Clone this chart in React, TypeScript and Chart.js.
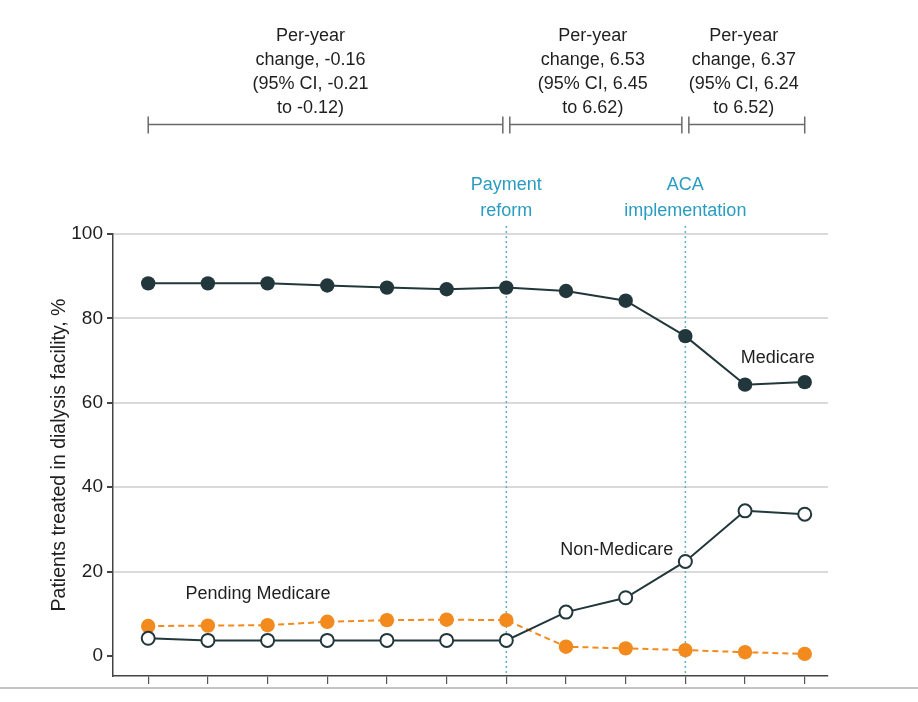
import React, { useEffect, useRef } from "react";
import { Chart, registerables } from "chart.js";

Chart.register(...registerables);

const years = [0, 1, 2, 3, 4, 5, 6, 7, 8, 9, 10, 11];
const medicare = [88.3, 88.3, 88.3, 87.8, 87.3, 86.9, 87.3, 86.5, 84.2, 75.8, 64.3, 64.9];
const nonMedicare = [4.2, 3.7, 3.7, 3.7, 3.7, 3.7, 3.7, 10.4, 13.8, 22.4, 34.4, 33.6];
const pendingMedicare = [7.1, 7.2, 7.3, 8.1, 8.5, 8.6, 8.5, 2.2, 1.8, 1.4, 0.9, 0.5];
const yTickValues = [0, 20, 40, 60, 80, 100];
const eventIndices = [6, 9];
const eventLabels = [["Payment", "reform"], ["ACA", "implementation"]];
const segments = [
  { from: 0, to: 6, textAt: 2.72, lines: ["Per-year", "change, -0.16", "(95% CI, -0.21", "to -0.12)"] },
  { from: 6, to: 9, textAt: 7.45, lines: ["Per-year", "change, 6.53", "(95% CI, 6.45", "to 6.62)"] },
  { from: 9, to: 11, textAt: 9.98, lines: ["Per-year", "change, 6.37", "(95% CI, 6.24", "to 6.52)"] },
];
const yTitle = "Patients treated in dialysis facility, %";

const DARK = "#22373b";
const ORANGE = "#f28a1e";
const TEAL = "#2a9cc2";
const TEXT = "#1f1f1f";
const FONT = "'Liberation Sans', Arial, sans-serif";

const annotations = {
  id: "annotations",
  beforeDatasetsDraw(chart: any) {
    const ctx = chart.ctx;
    const x = chart.scales.x;
    const area = chart.chartArea;
    ctx.save();
    ctx.strokeStyle = "#5fb0cf";
    ctx.lineWidth = 1.5;
    ctx.setLineDash([2, 3]);
    eventIndices.forEach((i) => {
      const px = x.getPixelForValue(i);
      ctx.beginPath();
      ctx.moveTo(px, area.top - 8);
      ctx.lineTo(px, area.bottom);
      ctx.stroke();
    });
    ctx.restore();
  },
  afterDraw(chart: any) {
    const ctx = chart.ctx;
    const x = chart.scales.x;
    const y = chart.scales.y;
    const area = chart.chartArea;
    ctx.save();
    // brackets
    ctx.strokeStyle = "#6a6a6a";
    ctx.lineWidth = 1.5;
    const by = 124.5;
    segments.forEach((s, k) => {
      const x0 = x.getPixelForValue(s.from) + (k === 0 ? 0 : 3.5);
      const x1 = x.getPixelForValue(s.to) - (k === segments.length - 1 ? 0 : 3.5);
      ctx.beginPath();
      ctx.moveTo(x0, by);
      ctx.lineTo(x1, by);
      ctx.moveTo(x0, by - 8);
      ctx.lineTo(x0, by + 9);
      ctx.moveTo(x1, by - 8);
      ctx.lineTo(x1, by + 9);
      ctx.stroke();
      ctx.fillStyle = TEXT;
      ctx.font = `18px ${FONT}`;
      ctx.textAlign = "center";
      ctx.textBaseline = "middle";
      const cx = x.getPixelForValue(s.textAt);
      s.lines.forEach((ln, j) => ctx.fillText(ln, cx, 36 + j * 24));
    });
    // event labels
    ctx.fillStyle = TEAL;
    ctx.font = `18px ${FONT}`;
    ctx.textAlign = "center";
    ctx.textBaseline = "middle";
    eventIndices.forEach((i, k) => {
      const px = x.getPixelForValue(i);
      eventLabels[k].forEach((ln, j) => ctx.fillText(ln, px, area.top - 49 + j * 26));
    });
    // series labels
    ctx.fillStyle = TEXT;
    ctx.fillText("Medicare", x.getPixelForValue(10.55), y.getPixelForValue(70.5));
    ctx.fillText("Non-Medicare", x.getPixelForValue(7.85), y.getPixelForValue(25));
    ctx.fillText("Pending Medicare", x.getPixelForValue(1.84), y.getPixelForValue(14.6));
    // y title
    ctx.save();
    ctx.translate(60, (area.top + area.bottom) / 2);
    ctx.rotate(-Math.PI / 2);
    ctx.font = `19.5px ${FONT}`;
    ctx.fillStyle = TEXT;
    ctx.fillText(yTitle, 0, 0);
    ctx.restore();
    // bottom separator
    ctx.strokeStyle = "#b0b0b0";
    ctx.lineWidth = 1.5;
    ctx.setLineDash([]);
    ctx.beginPath();
    ctx.moveTo(0, 688);
    ctx.lineTo(chart.width, 688);
    ctx.stroke();
    ctx.restore();
  },
};

export default function App() {
  const ref = useRef<HTMLCanvasElement>(null);
  useEffect(() => {
    if (!ref.current) return;
    const toXY = (arr: number[]) => arr.map((v, i) => ({ x: years[i], y: v }));
    const chart = new Chart(ref.current, {
      type: "line",
      data: {
        datasets: [
          {
            label: "Non-Medicare",
            data: toXY(nonMedicare),
            borderColor: DARK,
            borderWidth: 2,
            pointRadius: 6.5,
            pointBackgroundColor: "#ffffff",
            pointBorderColor: DARK,
            pointBorderWidth: 2,
          },
          {
            label: "Medicare",
            data: toXY(medicare),
            borderColor: DARK,
            borderWidth: 2,
            pointRadius: 7.2,
            pointBackgroundColor: DARK,
            pointBorderColor: DARK,
            pointBorderWidth: 0,
          },
          {
            label: "Pending Medicare",
            data: toXY(pendingMedicare),
            borderColor: ORANGE,
            borderWidth: 2,
            borderDash: [6, 4],
            pointRadius: 7.2,
            pointBackgroundColor: ORANGE,
            pointBorderColor: ORANGE,
            pointBorderWidth: 0,
          },
        ],
      },
      options: {
        animation: false,
        responsive: false,
        devicePixelRatio: 1,
        layout: { padding: { left: 0, top: 234, right: 90, bottom: 0 } },
        plugins: { legend: { display: false }, tooltip: { enabled: false } },
        scales: {
          x: {
            type: "linear",
            min: -0.59,
            max: 11.39,
            afterBuildTicks: (s: any) => {
              s.ticks = years.map((v) => ({ value: v }));
            },
            afterFit: (s: any) => {
              s.height = 26;
            },
            ticks: { display: false },
            grid: { drawOnChartArea: false, drawTicks: true, tickLength: 8, color: "#555", lineWidth: 1.2 },
            border: { color: "#444", width: 1.5 },
          },
          y: {
            type: "linear",
            min: -4.74,
            max: 100,
            afterBuildTicks: (s: any) => {
              s.ticks = yTickValues.map((v) => ({ value: v }));
            },
            afterFit: (s: any) => {
              s.width = 113;
            },
            ticks: { color: TEXT, font: { family: FONT, size: 19 }, padding: 4 },
            grid: {
              color: (c: any) => (c.tick && c.tick.value === 0 ? "rgba(0,0,0,0)" : "#dadada"),
              lineWidth: 2,
              tickColor: "#444",
              tickLength: 6,
            },
            border: { color: "#444", width: 1.5 },
          },
        },
      },
      plugins: [annotations],
    });
    return () => chart.destroy();
  }, []);
  return (
    <div style={{ position: "fixed", left: 0, top: 0, width: 918, height: 702, background: "#fff" }}>
      <canvas ref={ref} width={918} height={702} style={{ width: 918, height: 702, display: "block" }} />
    </div>
  );
}
